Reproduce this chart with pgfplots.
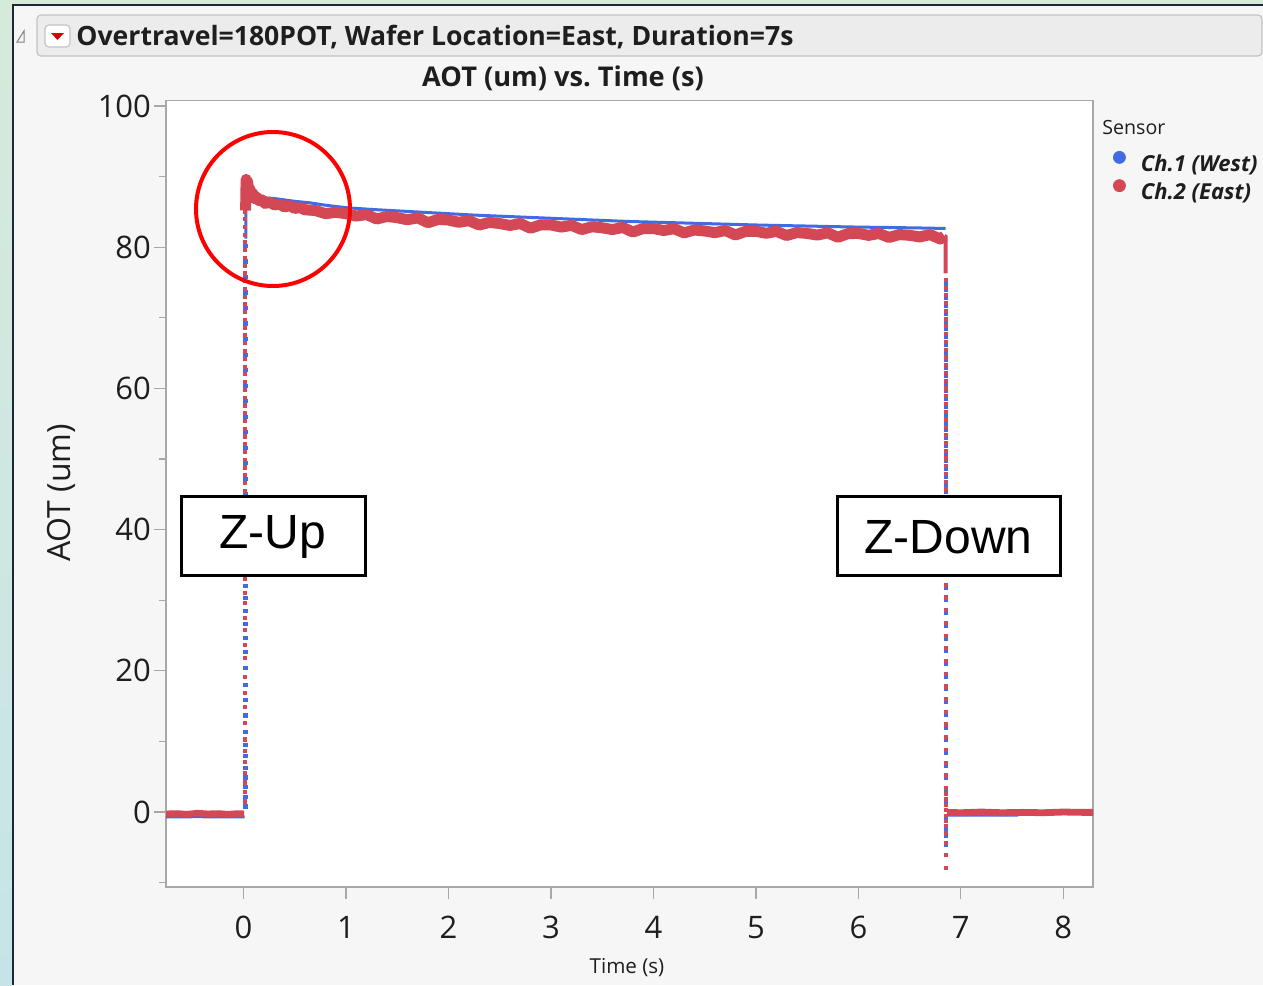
\documentclass[border=0pt]{standalone}
\usepackage{fontspec}
\setmainfont{Open Sans}
\newfontfamily\arialfont{Liberation Sans}
\usepackage{pgfplots}
\pgfplotsset{compat=1.18}
\definecolor{blueC}{RGB}{66,106,226}
\definecolor{redC}{RGB}{212,72,86}
\definecolor{frameD}{RGB}{28,40,56}
\definecolor{panel}{RGB}{246,246,246}
\definecolor{axisgray}{RGB}{168,168,168}
\definecolor{stripT}{RGB}{214,234,218}
\definecolor{stripB}{RGB}{198,228,232}
\definecolor{barfill}{RGB}{236,236,236}
\definecolor{barline}{RGB}{196,196,196}
\definecolor{txt}{RGB}{30,30,30}
\begin{document}
\begin{tikzpicture}
% ---------- window frame ----------
\begin{scope}[x=0.5pt,y=-0.5pt]
\path[use as bounding box] (0,0) rectangle (1263,985);
\fill[panel] (0,0) rectangle (1263,985);
\shade[top color=stripT,bottom color=stripB] (0,0) rectangle (12,985);
\fill[stripT] (0,0) rectangle (1263,4);
\fill[frameD] (12,4) rectangle (14,985);
\fill[frameD] (12,4) rectangle (1263,6);
\draw[barline,fill=barfill,rounded corners=2pt,line width=0.6pt] (37,15) rectangle (1262,56);
\draw[gray,line width=0.5pt] (24,31) -- (24,42) -- (17,42) -- cycle;
\draw[barline,fill=white,rounded corners=2pt,line width=0.6pt] (45,25) rectangle (70,47);
\fill[red!85!black] (51,33) -- (64,33) -- (57.5,40) -- cycle;
\node[anchor=base west,inner sep=0pt,text=txt] at (76,46) {\bfseries\fontsize{13.3}{16}\selectfont Overtravel=180POT, Wafer Location=East, Duration=7s};
\node[inner sep=0pt,text=txt] at (563,78) {\bfseries\fontsize{13.6}{16}\selectfont AOT (um) vs.\ Time (s)};
\node[inner sep=0pt,rotate=90,text=txt] at (61,493) {\fontsize{16}{19}\selectfont AOT (um)};
\node[inner sep=0pt,text=txt] at (627,968) {\fontsize{10.3}{12}\selectfont Time (s)};
\node[anchor=west,inner sep=0pt,text=txt] at (1102,127) {\fontsize{9.8}{12}\selectfont Sensor};
\end{scope}
% ---------- chart ----------
\begin{axis}[
  at={(83pt,-443.5pt)}, anchor=south west,
  scale only axis, width=463.5pt, height=393.25pt,
  xmin=-0.757, xmax=8.29, ymin=-10.62, ymax=100.78,
  axis background/.style={fill=white},
  axis line style={axisgray,line width=0.8pt},
  xtick={0,...,8}, ytick={0,20,...,100}, minor ytick={-10,10,...,90},
  tick align=outside, xtick pos=bottom, ytick pos=left,
  major tick length=6pt, minor tick length=3.5pt,
  every tick/.style={axisgray,line width=0.6pt},
  tick label style={font=\fontsize{15.5}{18}\selectfont, text=txt},
  xticklabel style={yshift=-5pt},
  yticklabel style={xshift=2pt},
  /pgf/number format/assume math mode=true,
  legend style={at={(1.0216,0.9358)}, anchor=north west, draw=none, fill=none,
    inner sep=0pt, outer sep=0pt, row sep=2.5pt,
    font=\fontsize{11}{13}\selectfont\bfseries\itshape,
    nodes={inner sep=0pt, text=txt},
    /tikz/every odd column/.style={column sep=7.5pt}},
  legend cell align=left,
  legend image code/.code={\fill[#1] (0pt,0.35em) circle (3pt);},
]
% ---- Ch.1 (blue) ----
\addplot[blueC,line width=1.5pt,forget plot] coordinates {
(-0.757,-0.7) (-0.6,-0.7) (-0.45,-0.65) (-0.3,-0.7) (-0.15,-0.7) (0.01,-0.7)};
\addplot[blueC,only marks,mark=square*,mark size=0.8pt,forget plot] coordinates {
(0.017,0.8) (0.017,2.2) (0.017,3.6) (0.017,4.9) (0.017,6.3) (0.017,7.9) (0.017,9.5) (0.017,11.4)
(0.017,13.7) (0.017,15.9) (0.017,18.0) (0.017,20.4) (0.017,22.7) (0.017,24.7) (0.017,26.6)
(0.017,28.5) (0.017,30.3) (0.017,32.0) (0.017,45.0) (0.017,47.2) (0.017,49.4) (0.017,51.6)
(0.017,53.8) (0.017,56.0) (0.017,58.2) (0.017,60.4) (0.017,62.6) (0.017,64.8) (0.017,67.0)
(0.017,69.2) (0.017,71.4) (0.017,73.6) (0.017,75.8) (0.017,78.0) (0.017,80.2)};
\addplot[blueC,line width=1.5pt,line join=round,forget plot] coordinates {
(0.022,81.2) (0.024,86.6) (0.03,87.2) (0.1,87.2) (0.2,87.0) (0.3,86.9) (0.4,86.7)
(0.5,86.5) (0.64,86.3) (0.8,85.95) (1.0,85.6) (1.25,85.35) (1.5,85.15) (1.75,84.95)
(2.0,84.75) (2.25,84.55) (2.5,84.4) (2.75,84.25) (3.0,84.1) (3.25,83.95) (3.5,83.8)
(3.75,83.65) (4.0,83.55) (4.25,83.45) (4.5,83.35) (4.75,83.25) (5.0,83.15) (5.25,83.07)
(5.5,83.0) (5.75,82.92) (6.0,82.85) (6.25,82.8) (6.5,82.75) (6.7,82.7) (6.851,82.65)};
\addplot[blueC,only marks,mark=square*,mark size=0.8pt,forget plot] coordinates {
(6.851,75.0) (6.851,73.9) (6.851,72.8) (6.851,71.7) (6.851,70.6) (6.851,69.5) (6.851,68.4)
(6.851,67.3) (6.851,66.2) (6.851,65.1) (6.851,64.0) (6.851,62.9) (6.851,61.8) (6.851,60.7)
(6.851,59.6) (6.851,58.5) (6.851,57.4) (6.851,56.3) (6.851,55.2) (6.851,54.1) (6.851,53.0)
(6.851,51.9) (6.851,50.8) (6.851,49.7) (6.851,48.6) (6.851,47.5) (6.851,46.4) (6.851,45.3)
(6.851,33.6) (6.851,31.8) (6.851,30.0) (6.851,28.2) (6.851,26.4) (6.851,24.6) (6.851,22.8)
(6.851,21.0) (6.851,19.2) (6.851,17.4) (6.851,15.6) (6.851,13.8) (6.851,12.0) (6.851,10.2)
(6.851,8.4) (6.851,6.6) (6.851,4.8) (6.851,3.0) (6.851,1.4) (6.851,-0.9) (6.851,-2.4)
(6.851,-3.4) (6.851,-4.7)};
\addplot[blueC,line width=1.5pt,forget plot] coordinates {
(6.87,-0.45) (7.2,-0.45) (7.55,-0.45) (7.56,-0.15) (8.29,-0.15)};
% ---- Ch.2 (red) ----
\addplot[redC,line width=3.2pt,line join=round,forget plot] coordinates {
(-0.757,-0.25) (-0.65,-0.2) (-0.55,-0.3) (-0.45,-0.15) (-0.35,-0.25) (-0.25,-0.2)
(-0.15,-0.3) (-0.05,-0.2) (0.005,-0.25)};
\addplot[redC,only marks,mark=square*,mark size=0.8pt,forget plot] coordinates {
(0.013,1.5) (0.013,2.8) (0.013,4.2) (0.013,5.5) (0.013,7.1) (0.013,8.7) (0.013,10.3)
(0.013,12.6) (0.013,14.9) (0.013,16.9) (0.013,19.1) (0.013,21.8) (0.013,23.7) (0.013,25.8)
(0.013,27.5) (0.013,29.6) (0.013,31.0) (0.013,33.0) (0.013,45.5) (0.013,46.6) (0.013,47.7)
(0.013,48.8) (0.013,49.9) (0.013,51.0) (0.013,52.1) (0.013,53.2) (0.013,54.3) (0.013,55.4)
(0.013,56.5) (0.013,57.6) (0.013,58.7) (0.013,59.8) (0.013,60.9) (0.013,62.0) (0.013,63.1)
(0.013,64.2) (0.013,65.3) (0.013,66.4) (0.013,67.5) (0.013,68.6) (0.013,69.7) (0.013,70.8)
(0.013,71.9) (0.013,73.0) (0.013,74.1) (0.013,75.2) (0.013,76.3) (0.013,77.4) (0.013,78.5)
(0.013,79.6) (0.013,80.7) (0.013,81.8) (0.013,82.9) (0.013,84.0) (0.013,85.0)};
\addplot[redC,line width=5.5pt,line join=round,forget plot] coordinates {
(0.02,85.2) (0.025,89.6) (0.032,88.2) (0.04,89.3) (0.05,87.6) (0.06,88.3) (0.075,87.4)
(0.09,87.6) (0.11,86.9) (0.13,87.1) (0.15,86.6) (0.18,86.7) (0.21,86.2) (0.25,86.4)
(0.30,86.0) (0.35,86.1) (0.40,85.7) (0.45,85.9) (0.50,85.5) (0.55,85.6) (0.60,85.3)
(0.70,85.2) (0.80,84.75) (0.90,84.95)
(1.0,84.75) (1.1,84.41) (1.2,84.63) (1.3,84.0) (1.4,84.36) (1.5,84.18) (1.6,83.89)
(1.7,84.16) (1.8,83.47) (1.9,83.94) (2.0,83.85) (2.1,83.53) (2.2,83.76) (2.3,83.14)
(2.4,83.52) (2.5,83.35) (2.6,83.08) (2.7,83.36) (2.8,82.69) (2.9,83.17) (3.0,83.15)
(3.1,82.85) (3.2,83.10) (3.3,82.50) (3.4,82.90) (3.5,82.75) (3.6,82.50) (3.7,82.80)
(3.8,82.15) (3.9,82.65) (4.0,82.65) (4.1,82.36) (4.2,82.62) (4.3,82.03) (4.4,82.44)
(4.5,82.30) (4.6,82.06) (4.7,82.37) (4.8,81.73) (4.9,82.24) (5.0,82.25) (5.1,81.97)
(5.2,82.24) (5.3,81.66) (5.4,82.08) (5.5,81.95) (5.6,81.72) (5.7,82.04) (5.8,81.41)
(5.9,81.93) (6.0,81.95) (6.1,81.68) (6.2,81.95) (6.3,81.38) (6.4,81.80) (6.5,81.68)
(6.6,81.46) (6.7,81.78) (6.8,81.16) (6.84,81.6)};
\addplot[redC,line width=2pt,forget plot] coordinates {
(6.84,81.6) (6.851,81.5) (6.851,76.3)};
\addplot[redC,only marks,mark=square*,mark size=0.8pt,forget plot] coordinates {
(6.851,75.4) (6.851,74.3) (6.851,73.2) (6.851,72.1) (6.851,71.0) (6.851,69.9) (6.851,68.8)
(6.851,67.7) (6.851,66.6) (6.851,65.5) (6.851,64.4) (6.851,63.3) (6.851,62.2) (6.851,61.1)
(6.851,60.0) (6.851,58.9) (6.851,57.8) (6.851,56.7) (6.851,55.6) (6.851,54.5) (6.851,53.4)
(6.851,52.3) (6.851,51.2) (6.851,50.1) (6.851,49.0) (6.851,47.9) (6.851,46.8) (6.851,45.7)
(6.851,34.0) (6.851,32.2) (6.851,30.4) (6.851,28.6) (6.851,26.8) (6.851,25.0) (6.851,23.2)
(6.851,21.4) (6.851,19.6) (6.851,17.8) (6.851,16.0) (6.851,14.2) (6.851,12.4) (6.851,10.6)
(6.851,8.8) (6.851,7.0) (6.851,5.2) (6.851,3.4) (6.851,2.6) (6.851,1.8) (6.851,1.0)
(6.851,0.3) (6.851,-0.5) (6.851,-1.2) (6.851,-2.0) (6.851,-3.0) (6.851,-4.4) (6.851,-6.1)
(6.851,-7.9)};
\addplot[redC,line width=3.4pt,line join=round,forget plot] coordinates {
(6.865,-0.05) (7.0,-0.1) (7.2,0.0) (7.4,-0.1) (7.6,-0.05) (7.8,-0.1) (8.0,0.0) (8.2,-0.05)
(8.29,-0.05)};
% ---- legend ----
\addlegendimage{blueC}
\addlegendentry{Ch.1 (West)}
\addlegendimage{redC}
\addlegendentry{Ch.2 (East)}
\end{axis}
% ---------- annotations ----------
\begin{scope}[x=0.5pt,y=-0.5pt]
\draw[red,line width=2pt] (273,209) circle[radius=38.5pt];
\draw[black,line width=1.5pt,fill=white] (181,496) rectangle (365,575);
\node[inner sep=0pt] at (273,537) {\arialfont\fontsize{24}{28}\selectfont Z-Up};
\draw[black,line width=1.5pt,fill=white] (837,496) rectangle (1060,575);
\node[inner sep=0pt] at (948.5,537) {\arialfont\fontsize{24}{28}\selectfont Z-Down};
\end{scope}
\end{tikzpicture}
\end{document}
